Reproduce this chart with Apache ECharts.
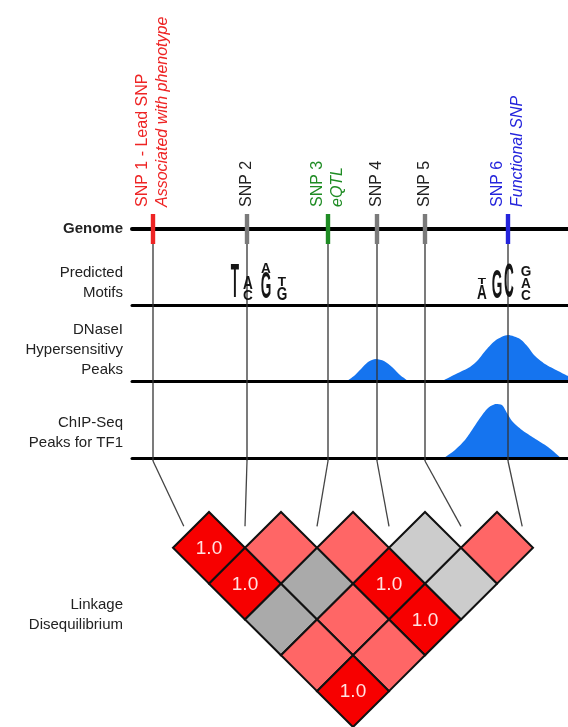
<!DOCTYPE html>
<html>
<head>
<meta charset="utf-8">
<script src="https://cdn.jsdelivr.net/npm/echarts@6/dist/echarts.min.js"></script>
<style>
html, body { margin: 0; padding: 0; background: #fff; }
#chart { width: 568px; height: 727px; }
</style>
</head>
<body>
<div id="chart"></div>
<script>
// SNPs along the region (genome axis units)
const snpNames = ['SNP 1 - Lead SNP', 'SNP 2', 'SNP 3', 'SNP 4', 'SNP 5', 'SNP 6'];
const snpNotes = ['Associated with phenotype', '', 'eQTL', '', '', 'Functional SNP'];
const snpPos = [21, 115, 196, 245, 293, 376];
const snpColors = ['#ee2424', '#7a7a7a', '#1f8c24', '#7a7a7a', '#7a7a7a', '#2424dc'];
const snpTextColors = ['#ee2424', '#222', '#1f8c24', '#222', '#222', '#2424dc'];

// predicted motifs, letters bottom -> top, heights in bits
const motif1Pos = [103, 116, 134, 150];
const motif1Letters = [['T'], ['C', 'A'], ['G', 'A'], ['G', 'T']];
const motif1Bits = [[1.75], [0.55, 0.7], [1.35, 0.6], [0.7, 0.5]];
const motif2Pos = [350, 365, 377, 394];
const motif2Letters = [['A', 'T'], ['G'], ['C'], ['C', 'A', 'G']];
const motif2Bits = [[0.8, 0.4], [1.5], [1.8], [0.6, 0.6, 0.6]];

// DNaseI peaks
const dnasePeak1X = [215, 222, 229, 236, 244, 252, 260, 268, 276];
const dnasePeak1Y = [0, 5, 12, 19, 22, 20, 14, 6, 0];
const dnasePeak2X = [310, 324, 338, 346, 354, 364, 376, 388, 396, 402, 413, 426, 436];
const dnasePeak2Y = [0, 7, 14, 21, 31, 41, 46, 42, 34, 26, 17, 10, 5];
// ChIP-Seq peak
const chipPeakX = [312, 323, 333, 340, 348, 356, 364, 370, 375, 380, 390, 402, 416, 429];
const chipPeakY = [0, 8, 18, 28, 40, 50, 54, 53, 45, 37, 28, 20, 11, 0];

// LD values, row d = pairs (i, i+d)
const ldRows = [
    [1.0, 0.6, 0.6, 0.1, 0.6],
    [1.0, 0.3, 1.0, 0.1],
    [0.3, 0.6, 1.0],
    [0.6, 0.6],
    [1.0]
];

const trackLabels = [['Genome'], ['Predicted', 'Motifs'], ['DNaseI', 'Hypersensitivy', 'Peaks'], ['ChIP-Seq', 'Peaks for TF1'], ['Linkage', 'Disequilibrium']];
const trackLabelY = [229, 273, 330, 423, 605];

const FONT = '"Liberation Sans", Arial, Helvetica, sans-serif';
const PEAK = '#1574ef';
const LETTER_SIZE = 16;

let chart = echarts.init(document.getElementById('chart'));

function zip(xs, ys) { return xs.map((x, i) => [x, ys[i]]); }

let letterItems = [];
function addMotif(pos, letters, bits) {
    pos.forEach((x, c) => {
        let y0 = 0;
        letters[c].forEach((ch, k) => {
            let y1 = y0 + bits[c][k];
            letterItems.push({ x: x, y0: y0, y1: y1, ch: ch });
            y0 = y1;
        });
    });
}
addMotif(motif1Pos, motif1Letters, motif1Bits);
addMotif(motif2Pos, motif2Letters, motif2Bits);

let ldData = [];
ldRows.forEach((row, r) => {
    let d = r + 1;
    row.forEach((v, i) => ldData.push([2 * i + d, d, v]));
});

function ldColor(v) {
    if (v >= 0.95) return '#f70000';
    if (v >= 0.5) return '#ff6666';
    if (v >= 0.2) return '#aaaaaa';
    return '#cccccc';
}

function hiddenAxis(idx, min, max, extra) {
    return Object.assign({
        type: 'value', gridIndex: idx, min: min, max: max,
        axisLine: { show: false }, axisTick: { show: false },
        axisLabel: { show: false }, splitLine: { show: false }
    }, extra || {});
}
function trackAxis(idx, width) {
    return hiddenAxis(idx, 0, 436, {
        z: 3,
        axisLine: { show: true, onZero: idx === 1, lineStyle: { color: '#000', width: width } }
    });
}

let option = {
    animation: false,
    grid: [
        { left: 132, right: 0, top: 214, height: 247 },
        { left: 132, right: 0, top: 214, height: 30 },
        { left: 132, right: 0, top: 250, height: 55 },
        { left: 132, right: 0, top: 331, height: 50 },
        { left: 132, right: 0, top: 398, height: 60 },
        { left: 173, top: 512, width: 360, height: 216 }
    ],
    xAxis: [
        hiddenAxis(0, 0, 436),
        Object.assign(trackAxis(1, 4), { z: 0 }),
        trackAxis(2, 3),
        trackAxis(3, 3),
        trackAxis(4, 3),
        hiddenAxis(5, 0, 10)
    ],
    yAxis: [
        hiddenAxis(0, 0, 1),
        hiddenAxis(1, -1, 1),
        hiddenAxis(2, -0.2, 2.55),
        hiddenAxis(3, 0, 50),
        hiddenAxis(4, 0, 60),
        hiddenAxis(5, 0, 6, { inverse: true })
    ],
    series: [
        {
            // thin lines from each SNP down through the tracks
            type: 'custom', xAxisIndex: 0, yAxisIndex: 0, z: 4,
            data: snpPos.map(p => [p, 0]),
            renderItem: function (params, api) {
                let a = api.coord([api.value(0), 1]);
                let b = api.coord([api.value(0), 0]);
                return { type: 'line', shape: { x1: a[0], y1: a[1], x2: b[0], y2: b[1] }, style: { stroke: '#333', lineWidth: 1.3 } };
            }
        },
        {
            // coloured ticks on the genome
            type: 'custom', xAxisIndex: 1, yAxisIndex: 1, z: 5,
            data: snpPos.map(p => [p, 0]),
            renderItem: function (params, api) {
                let a = api.coord([api.value(0), 1]);
                let b = api.coord([api.value(0), -1]);
                return { type: 'rect', shape: { x: a[0] - 2.2, y: a[1], width: 4.4, height: b[1] - a[1] }, style: { fill: snpColors[params.dataIndex] } };
            }
        },
        {
            // SNP names, rotated
            type: 'custom', xAxisIndex: 1, yAxisIndex: 1, z: 5,
            data: snpPos.map(p => [p, 1]),
            renderItem: function (params, api) {
                let i = params.dataIndex;
                let top = api.coord([api.value(0), 1]);
                let two = snpNotes[i] !== '';
                let kids = [{
                    type: 'text', x: top[0] + (two ? -10 : 0), y: top[1] - 7, rotation: Math.PI / 2,
                    style: { text: snpNames[i], fill: snpTextColors[i], fontSize: 16, fontFamily: FONT, align: 'left', verticalAlign: 'middle' }
                }];
                if (two) {
                    kids.push({
                        type: 'text', x: top[0] + 10, y: top[1] - 7, rotation: Math.PI / 2,
                        style: { text: snpNotes[i], fill: snpTextColors[i], fontSize: 16, fontStyle: 'italic', fontFamily: FONT, align: 'left', verticalAlign: 'middle' }
                    });
                }
                return { type: 'group', children: kids };
            }
        },
        {
            // motif logo letters
            type: 'custom', xAxisIndex: 2, yAxisIndex: 2, z: 5,
            data: letterItems.map(d => [d.x, d.y0, d.y1]),
            renderItem: function (params, api) {
                let d = letterItems[params.dataIndex];
                let lo = api.coord([d.x, d.y0]);
                let hi = api.coord([d.x, d.y1]);
                let h = lo[1] - hi[1] - 1;
                return {
                    type: 'text', x: lo[0], y: (lo[1] + hi[1] + 1) / 2,
                    scaleX: 0.85, scaleY: h / (0.716 * LETTER_SIZE),
                    style: { text: d.ch, fill: '#151515', fontSize: LETTER_SIZE, fontWeight: 'bold', fontFamily: FONT, align: 'center', verticalAlign: 'middle' }
                };
            }
        },
        {
            type: 'line', xAxisIndex: 3, yAxisIndex: 3, z: 1, smooth: 0.25, showSymbol: false,
            data: zip(dnasePeak1X, dnasePeak1Y),
            lineStyle: { width: 0, opacity: 0 }, areaStyle: { color: PEAK, opacity: 1 }
        },
        {
            type: 'line', xAxisIndex: 3, yAxisIndex: 3, z: 1, smooth: 0.25, showSymbol: false,
            data: zip(dnasePeak2X, dnasePeak2Y),
            lineStyle: { width: 0, opacity: 0 }, areaStyle: { color: PEAK, opacity: 1 }
        },
        {
            type: 'line', xAxisIndex: 4, yAxisIndex: 4, z: 1, smooth: 0.25, showSymbol: false,
            data: zip(chipPeakX, chipPeakY),
            lineStyle: { width: 0, opacity: 0 }, areaStyle: { color: PEAK, opacity: 1 }
        },
        {
            // linkage disequilibrium diamonds
            type: 'custom', xAxisIndex: 5, yAxisIndex: 5, z: 5,
            data: ldData,
            renderItem: function (params, api) {
                let xc = api.value(0), yc = api.value(1), v = api.value(2);
                let pts = [[xc - 1, yc], [xc, yc - 1], [xc + 1, yc], [xc, yc + 1]].map(p => api.coord(p));
                let c = api.coord([xc, yc]);
                let kids = [{ type: 'polygon', shape: { points: pts }, style: { fill: ldColor(v), stroke: '#111', lineWidth: 2 } }];
                if (v >= 0.95) {
                    kids.push({ type: 'text', x: c[0], y: c[1] + 1, style: { text: v.toFixed(1), fill: '#ffe2e2', fontSize: 19, fontFamily: FONT, align: 'center', verticalAlign: 'middle' } });
                }
                return { type: 'group', children: kids };
            }
        }
    ]
};

chart.setOption(option);

// connectors from the tracks to the LD triangle
let graphics = [];
snpPos.forEach((p, k) => {
    let a = chart.convertToPixel({ gridIndex: 0 }, [p, 0]);
    let end = Math.min(Math.max(2 * k, 0.3), 9.7);
    let b = chart.convertToPixel({ gridIndex: 5 }, [end, 0.4]);
    graphics.push({ type: 'polyline', silent: true, shape: { points: [a, b] }, style: { stroke: '#444', lineWidth: 1.3, fill: null } });
});
trackLabels.forEach((lines, t) => {
    lines.forEach((s, j) => {
        graphics.push({
            type: 'text', x: 123, y: trackLabelY[t] + j * 20, silent: true,
            style: { text: s, fill: '#222', fontSize: 15, fontWeight: t === 0 ? 'bold' : 'normal', fontFamily: FONT, align: 'right', verticalAlign: 'middle' }
        });
    });
});
chart.setOption({ graphic: graphics });

window.onresize = function () { chart.resize(); };
</script>
</body>
</html>
